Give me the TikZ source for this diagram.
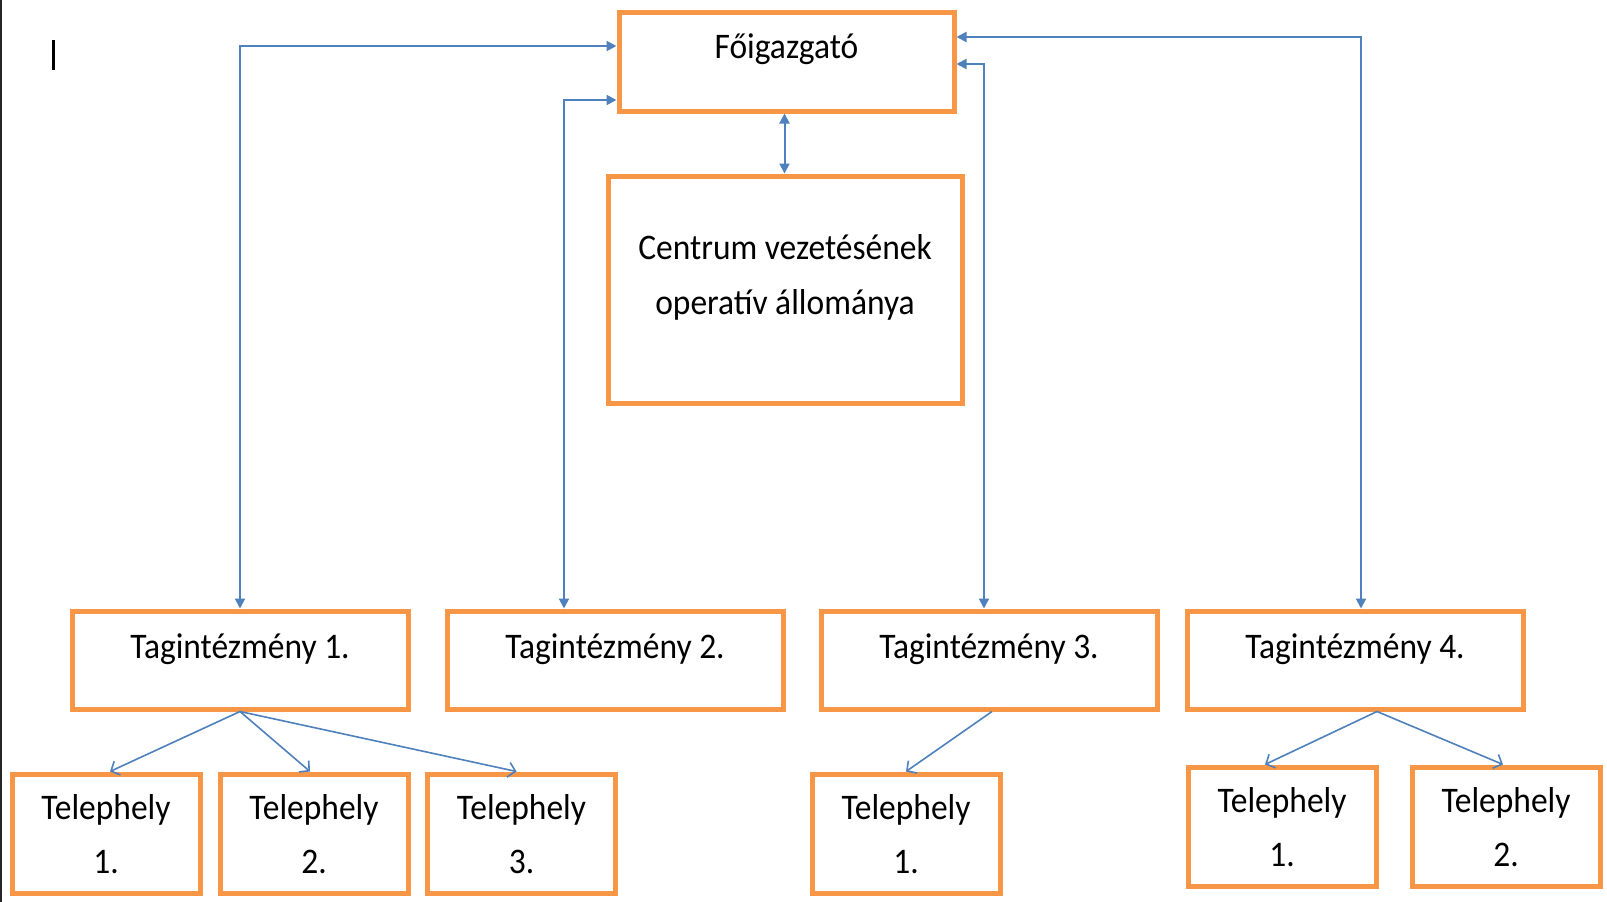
\documentclass[tikz,border=0pt]{standalone}
\usepackage{fontspec}
\setmainfont{Carlito}[FakeStretch=0.93]
\usepackage{tikz}
\usetikzlibrary{positioning,arrows.meta}
\definecolor{BoxOrange}{HTML}{F79646}
\definecolor{LinkBlue}{HTML}{4F81BD}
\tikzset{
  topbox/.style={draw=BoxOrange,line width=5pt,fill=white,
    minimum width=335pt,minimum height=99pt,inner sep=0pt,
    text height=46.5pt,text depth=52.5pt,
    font=\fontsize{36}{54}\selectfont,align=center},
  opbox/.style={draw=BoxOrange,line width=5pt,fill=white,
    minimum width=354pt,minimum height=227pt,inner sep=0pt,
    text height=138.5pt,text depth=88.5pt,
    font=\fontsize{36}{55}\selectfont,align=center},
  tagbox/.style={draw=BoxOrange,line width=5pt,fill=white,
    minimum width=336pt,minimum height=98pt,inner sep=0pt,
    text height=47pt,text depth=51pt,
    font=\fontsize{36}{54}\selectfont,align=center},
  telbox/.style={draw=BoxOrange,line width=5pt,fill=white,
    minimum width=188pt,minimum height=119pt,inner sep=0pt,
    text height=99.5pt,text depth=19.5pt,
    font=\fontsize{36}{54}\selectfont,align=center},
  linkB/.style={draw=LinkBlue,line width=2pt,
    {Triangle[length=10pt,width=10pt]}-{Triangle[length=10pt,width=10pt]}},
  linkD/.style={draw=LinkBlue,line width=2pt,
    -{Triangle[length=10pt,width=10pt]}},
  subL/.style={draw=LinkBlue,line width=1.6pt,
    -{Straight Barb[length=7pt,width=15pt]}},
}
\begin{document}
\begin{tikzpicture}[x=1pt,y=-1pt]
  \useasboundingbox[fill=white] (0,0) rectangle (1607,902);
  \draw[line width=1.5pt,black!85] (0.75,0) -- (0.75,902);
  \draw[line width=3pt,black] (53,40) -- (53,70);
  \node[topbox] (fo) at (786.5,61.5) {Főigazgató};
  \node[opbox] (cen) at (785,289.5) {Centrum vezetésének\\operatív állománya};
  \node[tagbox] (tag1) at (240,660) {Tagintézmény 1.};
  \node[tagbox] (tag2) at (615,660) {Tagintézmény 2.};
  \node[tagbox] (tag3) at (989,660) {Tagintézmény 3.};
  \node[tagbox] (tag4) at (1355,660) {Tagintézmény 4.};
  \node[telbox] (tel11) at (106,833.5) {Telephely\\1.};
  \node[telbox] (tel12) at (314,833.5) {Telephely\\2.};
  \node[telbox] (tel13) at (521.5,833.5) {Telephely\\3.};
  \node[telbox] (tel31) at (906,833.5) {Telephely\\1.};
  \node[telbox] (tel41) at (1282,826.5) {Telephely\\1.};
  \node[telbox] (tel42) at (1506,826.5) {Telephely\\2.};
  % links to the director
  \draw[linkB] ([yshift=15.5pt]fo.west) -| (tag1.north);
  \draw[linkB] ([yshift=-38.5pt]fo.west) -| ([xshift=-51pt]tag2.north);
  \draw[linkB] ([yshift=-2.5pt]fo.east) -| ([xshift=-5pt]tag3.north);
  \draw[linkB] ([yshift=24.5pt]fo.east) -| ([xshift=6pt]tag4.north);
  \draw[linkB] ([xshift=-2pt]fo.south) -- ([xshift=-2pt]fo.south |- cen.north);
  % sites
  \draw[subL] (tag1.south) -- ([xshift=4pt]tel11.north);
  \draw[subL] (tag1.south) -- ([xshift=-4pt]tel12.north);
  \draw[subL] (tag1.south) -- ([xshift=-5pt]tel13.north);
  \draw[subL] ([xshift=3pt]tag3.south) -- (tel31.north);
  \draw[subL] ([xshift=22pt]tag4.south) -- ([xshift=-17pt]tel41.north);
  \draw[subL] ([xshift=22pt]tag4.south) -- ([xshift=-3pt]tel42.north);
\end{tikzpicture}
\end{document}
